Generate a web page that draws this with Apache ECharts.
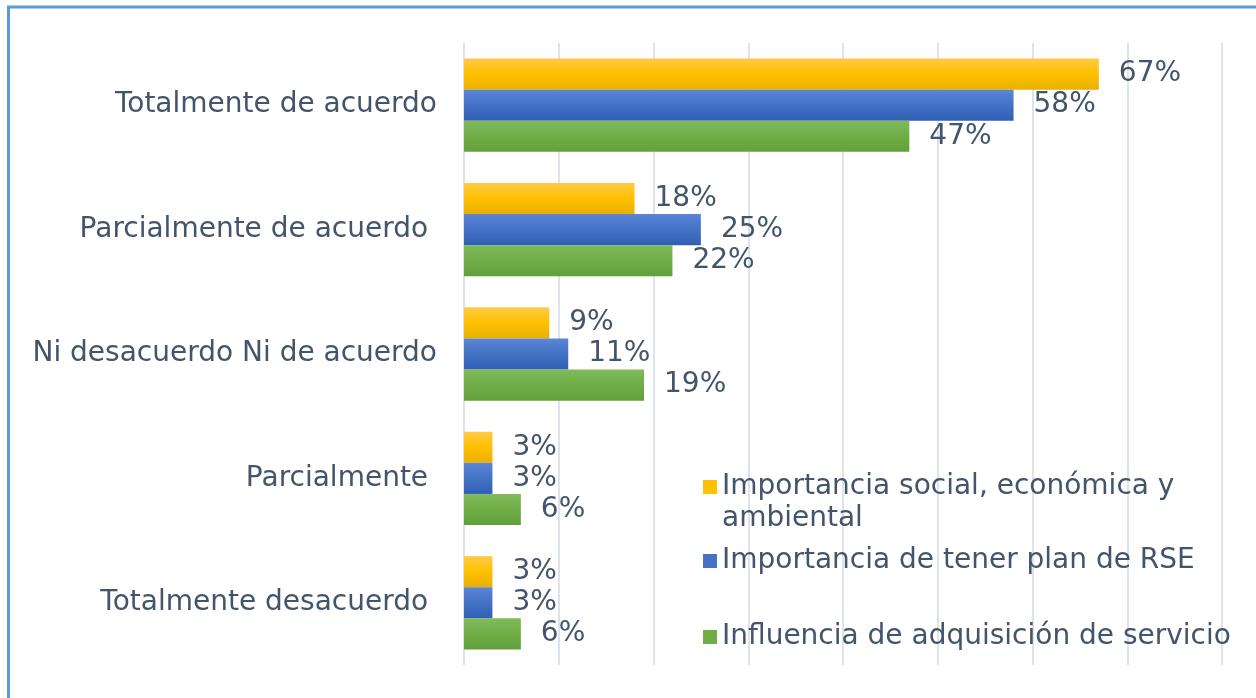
<!DOCTYPE html>
<html>
<head>
<meta charset="utf-8">
<script src="https://cdn.jsdelivr.net/npm/echarts@6/dist/echarts.min.js"></script>
<style>
  html, body { margin: 0; padding: 0; background: #fff; }
  #main { width: 1256px; height: 698px; }
</style>
</head>
<body>
<div id="main"></div>
<script>
var categories = [
    'Totalmente de acuerdo',
    'Parcialmente de acuerdo ',
    'Ni desacuerdo Ni de acuerdo',
    'Parcialmente ',
    'Totalmente desacuerdo '
];
var seriesNames = [
    'Importancia social, económica y ambiental',
    'Importancia de tener plan de RSE',
    'Influencia de adquisición de servicio'
];
var socialValues = [67, 18, 9, 3, 3];
var planValues = [58, 25, 11, 3, 3];
var influenciaValues = [47, 22, 19, 6, 6];

var textColor = '#44546a';
var fontFamily = 'DejaVu Sans';
var fontSize = 28;

function grad(top, mid, bottom) {
    return new echarts.graphic.LinearGradient(0, 0, 0, 1, [
        {offset: 0, color: top},
        {offset: 0.5, color: mid},
        {offset: 1, color: bottom}
    ]);
}

var colors = [
    grad('#ffca45', '#ffc000', '#e8b000'),
    grad('#5b85d8', '#4472c4', '#2f5fb5'),
    grad('#80ba5c', '#70ad47', '#60a03a')
];
var legendColors = ['#ffc000', '#4472c4', '#70ad47'];

var chart = echarts.init(document.getElementById('main'));

function makeSeries(i, values) {
    return {
        name: seriesNames[i],
        type: 'bar',
        data: values,
        barGap: '0%',
        barCategoryGap: '25%',
        itemStyle: {color: colors[i]},
        label: {
            show: true,
            position: 'right',
            distance: 20,
            formatter: '{c}%',
            color: textColor,
            fontSize: fontSize,
            fontFamily: fontFamily
        }
    };
}

var legendBase = {
    orient: 'vertical',
    left: 703,
    padding: 0,
    icon: 'rect',
    itemWidth: 14,
    itemHeight: 14,
    itemGap: 0,
    selectedMode: false,
    textStyle: {color: textColor, fontSize: fontSize, fontFamily: fontFamily, lineHeight: 32}
};

chart.setOption({
    animation: false,
    graphic: [{
        type: 'rect',
        shape: {x: 8.5, y: 7, width: 1400, height: 900},
        style: {fill: 'none', stroke: '#5b9bd5', lineWidth: 3},
        silent: true
    }],
    grid: {left: 464, right: 34, top: 43, bottom: 33},
    legend: [
        Object.assign({}, legendBase, {
            top: 439,
            data: [{name: seriesNames[0], itemStyle: {color: legendColors[0]}}],
            // blank first line keeps the icon level with the first text line
            formatter: function () { return '\nImportancia social, económica y\nambiental'; }
        }),
        Object.assign({}, legendBase, {
            top: 545,
            data: [{name: seriesNames[1], itemStyle: {color: legendColors[1]}}]
        }),
        Object.assign({}, legendBase, {
            top: 621,
            data: [{name: seriesNames[2], itemStyle: {color: legendColors[2]}}]
        })
    ],
    xAxis: {
        type: 'value',
        min: 0,
        max: 80,
        interval: 10,
        axisLabel: {show: false},
        axisLine: {show: false},
        axisTick: {show: false},
        splitLine: {lineStyle: {color: '#dde3ec', width: 2}}
    },
    yAxis: {
        type: 'category',
        data: categories,
        inverse: true,
        axisLine: {show: false},
        axisTick: {show: false},
        axisLabel: {
            margin: 27,
            color: textColor,
            fontSize: fontSize,
            fontFamily: fontFamily
        }
    },
    series: [
        makeSeries(0, socialValues),
        makeSeries(1, planValues),
        makeSeries(2, influenciaValues)
    ]
});
</script>
</body>
</html>
